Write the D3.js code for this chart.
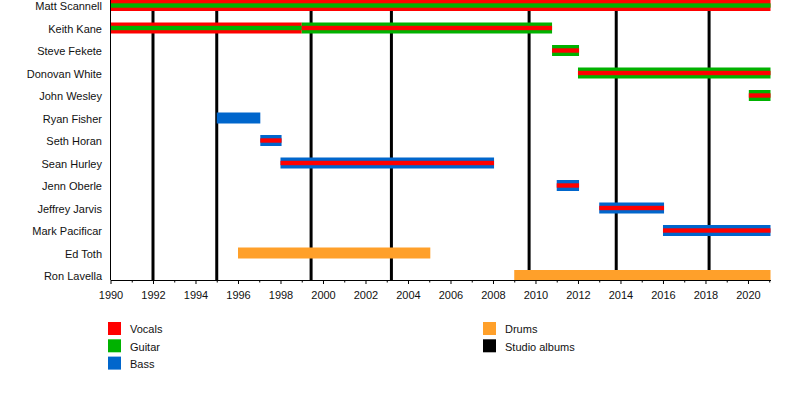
<!DOCTYPE html>
<html>
<head>
<meta charset="utf-8">
<script src="https://cdn.jsdelivr.net/npm/d3@7"></script>
<style>
  body { margin: 0; background: #fff; }
  text { font-family: "Liberation Sans", Arial, sans-serif; }
</style>
</head>
<body>
<svg width="800" height="400"></svg>
<script>
// band members, top to bottom
const members = ['Matt Scannell', 'Keith Kane', 'Steve Fekete', 'Donovan White', 'John Wesley',
  'Ryan Fisher', 'Seth Horan', 'Sean Hurley', 'Jenn Oberle', 'Jeffrey Jarvis',
  'Mark Pacificar', 'Ed Toth', 'Ron Lavella'];

// stints: member, start, end, main role, second role (thin stripe)
const stints = [
  ['Matt Scannell', 1990, 2021.06, 'vocals', 'guitar'],
  ['Keith Kane', 1990, 1999, 'vocals', 'guitar'],
  ['Keith Kane', 1999, 2010.78, 'guitar', 'vocals'],
  ['Steve Fekete', 2010.78, 2012.05, 'guitar', 'vocals'],
  ['Donovan White', 2012, 2021.06, 'guitar', 'vocals'],
  ['John Wesley', 2020.04, 2021.06, 'guitar', 'vocals'],
  ['Ryan Fisher', 1995, 1997.05, 'bass', null],
  ['Seth Horan', 1997.05, 1998.05, 'bass', 'vocals'],
  ['Sean Hurley', 1998, 2008.05, 'bass', 'vocals'],
  ['Jenn Oberle', 2011, 2012.05, 'bass', 'vocals'],
  ['Jeffrey Jarvis', 2013, 2016.05, 'bass', 'vocals'],
  ['Mark Pacificar', 2016, 2021.06, 'bass', 'vocals'],
  ['Ed Toth', 1996, 2005.05, 'drums', null],
  ['Ron Lavella', 2009, 2021.06, 'drums', null]
];

// studio album release dates
const albums = [1992, 1995, 1999.44, 2003.22, 2009.7, 2013.8, 2018.17];

const roles = ['vocals', 'guitar', 'bass', 'drums', 'albums'];
const roleNames = ['Vocals', 'Guitar', 'Bass', 'Drums', 'Studio albums'];
const roleColors = ['#ff0000', '#00b200', '#0066cc', '#ffa02a', '#000000'];

const svg = d3.select('svg');
const color = d3.scaleOrdinal().domain(roles).range(roleColors);

const x = d3.scaleLinear().domain([1990, 2021.06]).range([110.5, 770.5]);
const y = d3.scalePoint().domain(members).range([5.5, 275.5]);
const plotBottom = 280;

// album lines (behind bars)
svg.append('g').selectAll('line').data(albums).join('line')
  .attr('x1', d => x(d)).attr('x2', d => x(d))
  .attr('y1', 0).attr('y2', plotBottom)
  .attr('stroke', '#000').attr('stroke-width', 3);

// main bars
svg.append('g').selectAll('rect').data(stints).join('rect')
  .attr('x', d => x(d[1]))
  .attr('width', d => x(d[2]) - x(d[1]))
  .attr('y', d => y(d[0]) - 5.5)
  .attr('height', 11)
  .attr('fill', d => color(d[3]));

// thin inner stripes
svg.append('g').selectAll('rect').data(stints.filter(d => d[4])).join('rect')
  .attr('x', d => x(d[1]))
  .attr('width', d => x(d[2]) - x(d[1]))
  .attr('y', d => y(d[0]) - 2.2)
  .attr('height', 4.4)
  .attr('fill', d => color(d[4]));

// member names
svg.append('g').selectAll('text').data(members).join('text')
  .attr('x', 102).attr('y', d => y(d) + 0.8)
  .attr('dy', '0.35em')
  .attr('text-anchor', 'end')
  .attr('font-size', 11)
  .attr('fill', '#111')
  .text(d => d);

// left axis line
svg.append('line')
  .attr('x1', 110.5).attr('x2', 110.5).attr('y1', 0).attr('y2', plotBottom)
  .attr('stroke', '#000');

// bottom axis: labels every 2 years, minor ticks every year
const xAxis = d3.axisBottom(x)
  .tickValues(d3.range(1990, 2022, 2))
  .tickFormat(d3.format('d'))
  .tickSize(4)
  .tickSizeOuter(0)
  .tickPadding(7);
const gx = svg.append('g').attr('transform', `translate(0,${plotBottom})`).call(xAxis);
gx.select('.domain').attr('stroke', '#000');
gx.selectAll('text').attr('font-size', 11).attr('fill', '#111')
  .attr('font-family', '"Liberation Sans", Arial, sans-serif');
svg.append('g').attr('transform', `translate(0,${plotBottom})`)
  .call(d3.axisBottom(x).tickValues(d3.range(1991, 2022, 2)).tickFormat('').tickSize(2.5).tickSizeOuter(0))
  .select('.domain').remove();

// legend
const legend = svg.append('g').selectAll('g').data(roles).join('g')
  .attr('transform', (d, i) => i < 3
    ? `translate(108,${322 + i * 17.3})`
    : `translate(483,${322 + (i - 3) * 17.3})`);
legend.append('rect').attr('width', 13).attr('height', 13).attr('fill', d => color(d));
legend.append('text')
  .attr('x', 22).attr('y', 7.5).attr('dy', '0.35em')
  .attr('font-size', 11).attr('fill', '#111')
  .text((d, i) => roleNames[i]);
</script>
</body>
</html>
